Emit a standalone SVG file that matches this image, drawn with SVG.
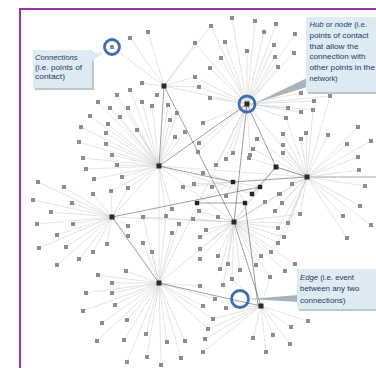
<svg xmlns="http://www.w3.org/2000/svg" xmlns:xlink="http://www.w3.org/1999/xlink" width="376" height="368" viewBox="0 0 376 368">
<style>
.lt{fill:none;stroke:#cdcdcd;stroke-width:0.55}
.dk{fill:none;stroke:#5c5c5c;stroke-width:0.6}
.ring{fill:none;stroke:#3d6db2;stroke-width:2.8}
.box{fill:#deebf2}
.shd{fill:#bcc6cd}
.ptr{fill:#a8b3bb}
.tx{font-family:"Liberation Sans",Arial,sans-serif;font-size:8px;fill:#1f3a66}
.it{font-style:italic}
</style>
<defs>
<rect id="s" x="-2" y="-2" width="4" height="4" fill="#8d8d8d"/>
<rect id="h" x="-2.5" y="-2.5" width="5" height="5" fill="#2a2a2a"/>
<rect id="d" x="-2.2" y="-2.2" width="4.4" height="4.4" fill="#222"/>
</defs>
<rect width="376" height="368" fill="#fff"/>
<rect id="frame" x="20" y="9" width="400" height="400" fill="none" stroke="#9b30ad" stroke-width="2"/>
<g id="connectors">
<path class="lt" d="M376 177L307 177" style="stroke:#d2d2d2;stroke-width:2"/>
<path class="lt" d="M164 86L148 32M164 86L130 38M164 86L112 47M164 86L195 43M164 86L211 26M164 86L142 83M164 86L157 95M164 86L195 77M164 86L199 87M164 86L247 104"/>
<path class="lt" d="M159 166L130 90M159 166L117 95M159 166L98 102M159 166L110 108M159 166L128 108M159 166L152 106M159 166L168 105M159 166L142 102M159 166L90 116M159 166L120 117M159 166L108 124M159 166L81 127M159 166L106 133M159 166L137 130M159 166L79 142M159 166L106 144M159 166L83 158M159 166L112 155M159 166L86 169M159 166L117 165M159 166L94 179M159 166L122 177M159 166L170 120M159 166L177 113M159 166L175 137M159 166L185 132M159 166L128 188M159 166L111 191M159 166L172 209M159 166L166 216M159 166L112 217M159 166L159 283M159 166L234 222M159 166L307 177M159 166L252 194"/>
<path class="lt" d="M247 104L232 18M247 104L255 21M247 104L276 24M247 104L264 32M247 104L295 34M247 104L225 42M247 104L247 51M247 104L274 45M247 104L221 58M247 104L275 57M247 104L294 53M247 104L278 67M247 104L210 68M247 104L210 98M247 104L301 93M247 104L314 101M247 104L330 96M247 104L288 108M247 104L313 110M247 104L301 112M247 104L286 118M247 104L203 123M247 104L233 153M247 104L250 155M247 104L199 143M247 104L198 152M247 104L216 165M247 104L226 159M247 104L195 43M247 104L211 26M247 104L195 77M247 104L199 87M247 104L307 177M247 104L159 283"/>
<path class="lt" d="M307 177L358 127M307 177L371 141M307 177L347 144M307 177L358 157M307 177L359 170M307 177L365 186M307 177L360 206M307 177L343 216M307 177L371 225M307 177L347 238M307 177L328 135M307 177L306 133M307 177L301 139M307 177L283 134M307 177L283 145M307 177L283 153M307 177L257 139M307 177L253 149M307 177L292 184M307 177L279 194M307 177L282 203M307 177L275 211M307 177L300 214M307 177L288 223M307 177L278 228M307 177L284 237M307 177L278 243M307 177L330 96M307 177L313 110M307 177L286 118M307 177L249 158M307 177L234 222"/>
<path class="lt" d="M112 217L38 182M112 217L64 187M112 217L93 194M112 217L111 191M112 217L128 188M112 217L33 200M112 217L72 203M112 217L51 212M112 217L37 224M112 217L73 224M112 217L57 235M112 217L39 248M112 217L66 247M112 217L79 259M112 217L93 252M112 217L107 244M112 217L57 265M112 217L128 226M112 217L128 236M112 217L234 222"/>
<path class="lt" d="M159 283L98 275M159 283L126 271M159 283L112 283M159 283L86 293M159 283L112 293M159 283L115 305M159 283L83 311M159 283L127 320M159 283L102 323M159 283L146 334M159 283L124 340M159 283L97 341M159 283L167 342M159 283L185 341M159 283L147 357M159 283L127 362M159 283L161 365M159 283L181 358M159 283L143 217M159 283L152 252M159 283L143 243M159 283L172 233M159 283L179 224M159 283L200 286M159 283L203 306M159 283L215 299M159 283L213 319M159 283L208 329M159 283L166 216M159 283L234 222"/>
<path class="lt" d="M234 222L260 187M234 222L280 194M234 222L265 202M234 222L300 214M234 222L218 217M234 222L278 228M234 222L288 223M234 222L284 237M234 222L278 243M234 222L206 230M234 222L200 237M234 222L200 249M234 222L271 252M234 222L261 256M234 222L218 256M234 222L200 259M234 222L228 264M234 222L256 265M234 222L240 270M234 222L220 269M234 222L270 277M234 222L285 271M234 222L295 264M234 222L232 279M234 222L223 285M234 222L199 211M234 222L193 219M234 222L143 217M234 222L276 167"/>
<path class="lt" d="M261 306L308 321M261 306L291 327M261 306L253 338M261 306L273 335M261 306L290 344M261 306L266 352M261 306L205 339M261 306L203 352M261 306L226 308M261 306L213 319M261 306L208 329M261 306L232 279M261 306L270 277"/>
<path class="lt" d="M233 182L203 173M233 182L183 187M233 182L194 184M233 182L212 187M233 182L226 196M233 182L197 203M233 182L245 203M233 182L252 194M233 182L260 187"/>
<path class="dk" d="M164 86L159 166M164 86L234 222M247 104L159 166M247 104L234 222M247 104L276 167M276 167L307 177M159 166L233 182M233 182L307 177M112 217L260 187M112 217L159 283M159 283L261 306M234 222L261 306M245 203L258 305M276 167L252 194M197 203L245 203"/>
</g>
<g id="leaves">
<use id="n1" href="#s" x="148" y="32"/><use id="n2" href="#s" x="130" y="38"/><use id="n3" href="#s" x="112" y="47"/><use id="n4" href="#s" x="195" y="43"/><use id="n5" href="#s" x="211" y="26"/><use id="n6" href="#s" x="142" y="83"/><use id="n7" href="#s" x="157" y="95"/><use id="n8" href="#s" x="195" y="77"/><use id="n9" href="#s" x="199" y="87"/>
<use id="n10" href="#s" x="130" y="90"/><use id="n11" href="#s" x="117" y="95"/><use id="n12" href="#s" x="98" y="102"/><use id="n13" href="#s" x="110" y="108"/><use id="n14" href="#s" x="128" y="108"/><use id="n15" href="#s" x="152" y="106"/><use id="n16" href="#s" x="168" y="105"/><use id="n17" href="#s" x="142" y="102"/><use id="n18" href="#s" x="90" y="116"/><use id="n19" href="#s" x="120" y="117"/><use id="n20" href="#s" x="108" y="124"/><use id="n21" href="#s" x="81" y="127"/><use id="n22" href="#s" x="106" y="133"/><use id="n23" href="#s" x="137" y="130"/><use id="n24" href="#s" x="79" y="142"/><use id="n25" href="#s" x="106" y="144"/><use id="n26" href="#s" x="83" y="158"/><use id="n27" href="#s" x="112" y="155"/><use id="n28" href="#s" x="86" y="169"/><use id="n29" href="#s" x="117" y="165"/><use id="n30" href="#s" x="94" y="179"/><use id="n31" href="#s" x="122" y="177"/><use id="n32" href="#s" x="170" y="120"/><use id="n33" href="#s" x="177" y="113"/><use id="n34" href="#s" x="175" y="137"/><use id="n35" href="#s" x="185" y="132"/><use id="n36" href="#s" x="128" y="188"/><use id="n37" href="#s" x="111" y="191"/><use id="n38" href="#s" x="172" y="209"/><use id="n39" href="#s" x="166" y="216"/>
<use id="n40" href="#s" x="232" y="18"/><use id="n41" href="#s" x="255" y="21"/><use id="n42" href="#s" x="276" y="24"/><use id="n43" href="#s" x="264" y="32"/><use id="n44" href="#s" x="295" y="34"/><use id="n45" href="#s" x="225" y="42"/><use id="n46" href="#s" x="247" y="51"/><use id="n47" href="#s" x="274" y="45"/><use id="n48" href="#s" x="221" y="58"/><use id="n49" href="#s" x="275" y="57"/><use id="n50" href="#s" x="294" y="53"/><use id="n51" href="#s" x="278" y="67"/><use id="n52" href="#s" x="210" y="68"/><use id="n53" href="#s" x="210" y="98"/><use id="n54" href="#s" x="301" y="93"/><use id="n55" href="#s" x="314" y="101"/><use id="n56" href="#s" x="330" y="96"/><use id="n57" href="#s" x="288" y="108"/><use id="n58" href="#s" x="313" y="110"/><use id="n59" href="#s" x="301" y="112"/><use id="n60" href="#s" x="286" y="118"/><use id="n61" href="#s" x="203" y="123"/><use id="n62" href="#s" x="233" y="153"/><use id="n63" href="#s" x="250" y="155"/><use id="n64" href="#s" x="199" y="143"/><use id="n65" href="#s" x="198" y="152"/><use id="n66" href="#s" x="216" y="165"/><use id="n67" href="#s" x="226" y="159"/>
<use id="n68" href="#s" x="358" y="127"/><use id="n69" href="#s" x="371" y="141"/><use id="n70" href="#s" x="347" y="144"/><use id="n71" href="#s" x="358" y="157"/><use id="n72" href="#s" x="359" y="170"/><use id="n73" href="#s" x="365" y="186"/><use id="n74" href="#s" x="360" y="206"/><use id="n75" href="#s" x="343" y="216"/><use id="n76" href="#s" x="371" y="225"/><use id="n77" href="#s" x="347" y="238"/><use id="n78" href="#s" x="328" y="135"/><use id="n79" href="#s" x="306" y="133"/><use id="n80" href="#s" x="301" y="139"/><use id="n81" href="#s" x="283" y="134"/><use id="n82" href="#s" x="283" y="145"/><use id="n83" href="#s" x="283" y="153"/><use id="n84" href="#s" x="257" y="139"/><use id="n85" href="#s" x="253" y="149"/><use id="n86" href="#s" x="292" y="184"/><use id="n87" href="#s" x="279" y="194"/><use id="n88" href="#s" x="282" y="203"/><use id="n89" href="#s" x="275" y="211"/><use id="n90" href="#s" x="300" y="214"/><use id="n91" href="#s" x="288" y="223"/><use id="n92" href="#s" x="278" y="228"/><use id="n93" href="#s" x="284" y="237"/><use id="n94" href="#s" x="278" y="243"/><use id="n95" href="#s" x="249" y="158"/>
<use id="n96" href="#s" x="38" y="182"/><use id="n97" href="#s" x="64" y="187"/><use id="n98" href="#s" x="93" y="194"/><use id="n99" href="#s" x="33" y="200"/><use id="n100" href="#s" x="72" y="203"/><use id="n101" href="#s" x="51" y="212"/><use id="n102" href="#s" x="37" y="224"/><use id="n103" href="#s" x="73" y="224"/><use id="n104" href="#s" x="57" y="235"/><use id="n105" href="#s" x="39" y="248"/><use id="n106" href="#s" x="66" y="247"/><use id="n107" href="#s" x="79" y="259"/><use id="n108" href="#s" x="93" y="252"/><use id="n109" href="#s" x="107" y="244"/><use id="n110" href="#s" x="57" y="265"/><use id="n111" href="#s" x="128" y="226"/><use id="n112" href="#s" x="128" y="236"/>
<use id="n113" href="#s" x="98" y="275"/><use id="n114" href="#s" x="126" y="271"/><use id="n115" href="#s" x="112" y="283"/><use id="n116" href="#s" x="86" y="293"/><use id="n117" href="#s" x="112" y="293"/><use id="n118" href="#s" x="115" y="305"/><use id="n119" href="#s" x="83" y="311"/><use id="n120" href="#s" x="127" y="320"/><use id="n121" href="#s" x="102" y="323"/><use id="n122" href="#s" x="146" y="334"/><use id="n123" href="#s" x="124" y="340"/><use id="n124" href="#s" x="97" y="341"/><use id="n125" href="#s" x="167" y="342"/><use id="n126" href="#s" x="185" y="341"/><use id="n127" href="#s" x="147" y="357"/><use id="n128" href="#s" x="127" y="362"/><use id="n129" href="#s" x="161" y="365"/><use id="n130" href="#s" x="181" y="358"/><use id="n131" href="#s" x="143" y="217"/><use id="n132" href="#s" x="152" y="252"/><use id="n133" href="#s" x="143" y="243"/><use id="n134" href="#s" x="172" y="233"/><use id="n135" href="#s" x="179" y="224"/><use id="n136" href="#s" x="200" y="286"/><use id="n137" href="#s" x="203" y="306"/><use id="n138" href="#s" x="215" y="299"/><use id="n139" href="#s" x="213" y="319"/><use id="n140" href="#s" x="208" y="329"/>
<use id="n141" href="#s" x="280" y="194"/><use id="n142" href="#s" x="265" y="202"/><use id="n143" href="#s" x="218" y="217"/><use id="n144" href="#s" x="206" y="230"/><use id="n145" href="#s" x="200" y="237"/><use id="n146" href="#s" x="200" y="249"/><use id="n147" href="#s" x="271" y="252"/><use id="n148" href="#s" x="261" y="256"/><use id="n149" href="#s" x="218" y="256"/><use id="n150" href="#s" x="200" y="259"/><use id="n151" href="#s" x="228" y="264"/><use id="n152" href="#s" x="256" y="265"/><use id="n153" href="#s" x="240" y="270"/><use id="n154" href="#s" x="220" y="269"/><use id="n155" href="#s" x="270" y="277"/><use id="n156" href="#s" x="285" y="271"/><use id="n157" href="#s" x="295" y="264"/><use id="n158" href="#s" x="232" y="279"/><use id="n159" href="#s" x="223" y="285"/><use id="n160" href="#s" x="199" y="211"/><use id="n161" href="#s" x="193" y="219"/>
<use id="n162" href="#s" x="308" y="321"/><use id="n163" href="#s" x="291" y="327"/><use id="n164" href="#s" x="253" y="338"/><use id="n165" href="#s" x="273" y="335"/><use id="n166" href="#s" x="290" y="344"/><use id="n167" href="#s" x="266" y="352"/><use id="n168" href="#s" x="205" y="339"/><use id="n169" href="#s" x="203" y="352"/><use id="n170" href="#s" x="226" y="308"/>
<use id="n171" href="#s" x="203" y="173"/><use id="n172" href="#s" x="183" y="187"/><use id="n173" href="#s" x="194" y="184"/><use id="n174" href="#s" x="212" y="187"/><use id="n175" href="#s" x="226" y="196"/>
<use id="n176" href="#d" x="197" y="203"/><use id="n177" href="#d" x="245" y="203"/><use id="n178" href="#d" x="252" y="194"/><use id="n179" href="#d" x="260" y="187"/>
</g>
<g id="hubA"><use href="#h" x="164" y="86"/></g>
<g id="hubB"><use href="#h" x="159" y="166"/></g>
<g id="hubC"><use href="#h" x="247" y="104"/></g>
<g id="hubD"><use href="#h" x="276" y="167"/></g>
<g id="hubE"><use href="#h" x="307" y="177"/></g>
<g id="hubF"><use href="#h" x="112" y="217"/></g>
<g id="hubG"><use href="#h" x="159" y="283"/></g>
<g id="hubH"><use href="#h" x="234" y="222"/></g>
<g id="hubI"><use href="#h" x="261" y="306"/></g>
<g id="hubJ"><use href="#d" x="233" y="182"/></g>
<g id="rings">
<circle class="ring" cx="112" cy="47" r="7.5"/>
<circle class="ring" cx="247" cy="104" r="8"/>
<circle class="ring" cx="240" cy="299" r="8.5"/>
</g>
<g id="callout-connections">
<rect class="shd" x="35" y="52" width="59" height="38"/>
<rect class="box" x="33" y="50" width="59" height="38"/>
<polygon class="box" points="91,53 91,62 103,53"/>
<text class="tx" x="35" y="60"><tspan class="it" textLength="42.5" lengthAdjust="spacingAndGlyphs">Connections</tspan></text>
<text class="tx" x="35" y="69.5" textLength="47" lengthAdjust="spacingAndGlyphs">(i.e. points of</text>
<text class="tx" x="35" y="79" textLength="30" lengthAdjust="spacingAndGlyphs">contact)</text>
</g>
<g id="callout-hub">
<polygon class="ptr" points="307,78 307,87 255,103"/>
<rect class="shd" x="308" y="19" width="70" height="75"/>
<rect class="box" x="306" y="17" width="72" height="75"/>
<text class="tx" x="309.5" y="27" textLength="57.5" lengthAdjust="spacingAndGlyphs"><tspan class="it">Hub</tspan> or <tspan class="it">node</tspan> (i.e.</text>
<text class="tx" x="309.5" y="37.8" textLength="59" lengthAdjust="spacingAndGlyphs">points of contact</text>
<text class="tx" x="309.5" y="49" textLength="49" lengthAdjust="spacingAndGlyphs">that allow the</text>
<text class="tx" x="309.5" y="59.3" textLength="56" lengthAdjust="spacingAndGlyphs">connection with</text>
<text class="tx" x="309.5" y="70.3" textLength="65.5" lengthAdjust="spacingAndGlyphs">other points in the</text>
<text class="tx" x="309.5" y="81" textLength="28" lengthAdjust="spacingAndGlyphs">network)</text>
</g>
<g id="callout-edge">
<polygon class="ptr" points="298,295 298,302 249,299"/>
<rect class="shd" x="299" y="271" width="79" height="40"/>
<rect class="box" x="297" y="269" width="81" height="40"/>
<text class="tx" x="300" y="280" textLength="54" lengthAdjust="spacingAndGlyphs"><tspan class="it">Edge</tspan> (i.e. event</text>
<text class="tx" x="300" y="291.3" textLength="59.5" lengthAdjust="spacingAndGlyphs">between any two</text>
<text class="tx" x="300" y="302.5" textLength="45.5" lengthAdjust="spacingAndGlyphs">connections)</text>
</g>
</svg>
